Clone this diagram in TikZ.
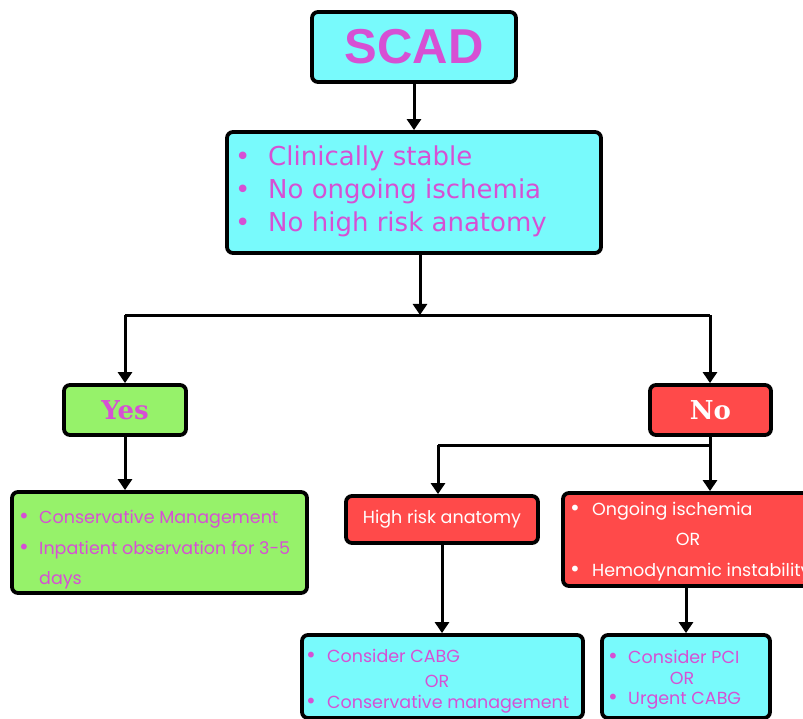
\documentclass[tikz,border=0pt]{standalone}
\usepackage{fontspec}
\usetikzlibrary{arrows.meta}
\newfontfamily\headfont{Liberation Sans}
\newfontfamily\listfont{DejaVu Sans}
\newfontfamily\slabfont{DejaVu Serif}
\newfontfamily\geofont{Poppins}
\definecolor{cyanbox}{RGB}{120,250,252}
\definecolor{greenbox}{RGB}{150,242,106}
\definecolor{redbox}{RGB}{255,74,74}
\definecolor{pinktext}{RGB}{214,80,212}
\newcommand{\gbul}{{\listfont\fontsize{20}{22}\selectfont •}}
\begin{document}
\begin{tikzpicture}[x=1pt,y=-1pt,
  box/.style={draw=black, line width=3.8pt, rounded corners=6pt, inner sep=0pt},
  conn/.style={draw=black, line width=3pt},
  arr/.style={conn, -{Triangle[width=14pt,length=11pt]}},
  linetext/.style={anchor=base west, inner sep=0pt},
  ortext/.style={anchor=base, inner sep=0pt},
  geo/.style={font=\geofont\fontsize{17.5}{21}\selectfont},
]
\useasboundingbox (0,0) rectangle (803,719);

% boxes
\node[box, fill=cyanbox, minimum width=204pt, minimum height=70pt, text=pinktext,
      font=\headfont\bfseries\fontsize{49}{52}\selectfont] (scad) at (414,47) {SCAD};
\node[box, fill=cyanbox, minimum width=374pt, minimum height=121pt] (crit) at (414,192.5) {};
\node[box, fill=greenbox, minimum width=122pt, minimum height=50pt, text=pinktext,
      font=\slabfont\bfseries\fontsize{26}{28}\selectfont] (yes) at (125,410) {Yes};
\node[box, fill=redbox, minimum width=121pt, minimum height=50pt, text=white,
      font=\slabfont\bfseries\fontsize{26}{28}\selectfont] (no) at (710.5,410) {No};
\node[box, fill=greenbox, minimum width=295pt, minimum height=101pt] (cons) at (159.5,542.5) {};
\node[box, fill=redbox, minimum width=192pt, minimum height=47pt, text=white, geo] (hra) at (442,519.5) {High risk anatomy};
\node[box, fill=redbox, minimum width=252pt, minimum height=93pt] (isch) at (689,539.5) {};
\node[box, fill=cyanbox, minimum width=281pt, minimum height=83pt] (cabg) at (442.5,676.5) {};
\node[box, fill=cyanbox, minimum width=168pt, minimum height=83pt] (pci) at (686,676.5) {};

% texts in criteria box
\begin{scope}[every node/.style={linetext, text=pinktext, font=\listfont\fontsize{26}{30}\selectfont}]
\node (c1) at (235,166) {\makebox[33pt][l]{•}Clinically stable};
\node (c2) at (235,199) {\makebox[33pt][l]{•}No ongoing ischemia};
\node (c3) at (235,232) {\makebox[33pt][l]{•}No high risk anatomy};
\end{scope}

% texts in conservative box
\begin{scope}[every node/.style={linetext, text=pinktext, geo}]
\node (g1) at (18,523) {\makebox[21pt][l]{\gbul}Conservative Management};
\node (g2) at (18,554) {\makebox[21pt][l]{\gbul}Inpatient observation for 3-5};
\node (g3) at (39,584) {days};
\end{scope}

% texts in ischemia box
\begin{scope}[every node/.style={linetext, text=white, geo}]
\node (r1) at (569,515) {\makebox[23pt][l]{\gbul}Ongoing ischemia};
\node[ortext] (r2) at (688,545) {OR};
\node (r3) at (569,576) {\makebox[23pt][l]{\gbul}Hemodynamic instability};
\end{scope}

% texts in CABG box
\begin{scope}[every node/.style={linetext, text=pinktext, geo}]
\node (b1) at (305,662) {\makebox[22pt][l]{\gbul}Consider CABG};
\node[ortext] (b2) at (437,687) {OR};
\node (b3) at (305,708) {\makebox[22pt][l]{\gbul}Conservative management};
\node (p1) at (607,663) {\makebox[21pt][l]{\gbul}Consider PCI};
\node[ortext] (p2) at (682,684) {OR};
\node (p3) at (607,704) {\makebox[21pt][l]{\gbul}Urgent CABG};
\end{scope}

% connectors
\coordinate (split) at (420,315);
\coordinate (lsplit) at (125,315);
\coordinate (rsplit) at (710,315);
\coordinate (nsplit) at (710,445);
\coordinate (hsplit) at (438,445);

\draw[arr] (scad.south) -- (crit.north);
\draw[arr] (crit.south -| split) -- (split);
\draw[conn] (lsplit) -- (rsplit);
\draw[arr] (lsplit) -- (yes.north -| lsplit);
\draw[arr] (rsplit) -- (no.north -| rsplit);
\draw[arr] (yes.south) -- (cons.north -| yes.south);
\draw[conn] (no.south -| nsplit) -- (nsplit) -- (hsplit);
\draw[arr] (hsplit) -- (hra.north -| hsplit);
\draw[arr] (nsplit) -- (isch.north -| nsplit);
\draw[arr] (hra.south) -- (cabg.north -| hra.south);
\draw[arr] (isch.south -| pci.north) -- (pci.north);
\end{tikzpicture}
\end{document}
